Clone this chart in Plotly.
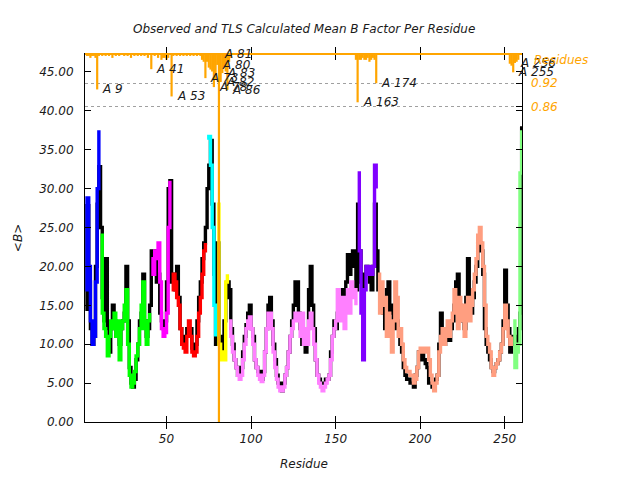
import plotly.graph_objects as go

# ---------------- data ----------------
residues = list(range(2, 261))

observed_b = [
    14.5, 27.8, 18, 12, 10, 11, 20, 28, 32.8,                       # 2-10
    25, 16, 13, 21, 12, 9, 12, 15, 13, 11,                          # 11-20
    12, 10, 12, 13, 14, 20, 13, 7, 5, 4.5,                          # 21-30
    5.5, 8, 10, 13, 14, 19, 13, 11, 12, 15,                         # 31-40
    22, 20, 22, 18, 19, 14, 13, 12, 13, 18,                         # 41-50
    30, 31, 18, 19, 17, 20, 16, 12, 10, 10,                         # 51-60
    11, 12, 12, 12, 9.5, 9, 10, 13, 16, 18,                         # 61-70
    21, 23, 25, 30, 33, 36.2, 28, 19, 10, 23,                       # 71-80
    10, 9, 11, 13, 16, 18, 17, 12, 10, 8,                           # 81-90
    7, 6, 6, 7, 9, 11, 12.5, 14, 15, 12,                            # 91-100
    11, 8, 7, 6.5, 6, 5.5, 6.5, 9, 12, 15,                          # 101-110
    16, 13, 10, 8, 6, 5, 4.5, 4, 5, 6,                              # 111-120
    7, 9, 11, 13, 15, 18, 18, 14, 12, 10,                           # 121-130
    11, 9, 12, 17, 20, 15, 12, 8, 6, 5.5,                           # 131-140
    5, 5, 5, 5.5, 5.5, 6, 9, 11, 13, 12,                            # 141-150
    14, 14, 14, 17, 16, 18, 21.5, 19, 20, 22,                       # 151-160
    20, 17, 28, 22, 18, 17, 19, 20, 19, 18,                         # 161-170
    17, 20, 28, 22, 17, 17, 15, 14, 12, 17,                         # 171-180
    18, 14, 15, 12, 14, 13, 12, 10, 9, 7,                           # 181-190
    6, 5.5, 5.5, 5, 5, 4.5, 6, 7, 9, 8,                             # 191-200
    9, 8, 7.5, 7, 5, 5, 4.5, 5, 5.5, 6,                             # 201-210
    10, 14, 12, 10, 10.5, 11, 10.5, 12, 13, 15,                     # 211-220
    18, 19, 15, 14, 13, 12, 16, 21, 17, 14,                         # 221-230
    16, 18, 20, 23, 23, 22, 19, 12, 10, 9,                          # 231-240
    8, 7, 6.5, 7, 7.5, 8, 9, 10, 13, 19.5,                          # 241-250
    15, 12, 9, 10, 11, 10, 10, 12, 14, 38,                          # 251-260
]

calculated_b = [
    17, 28.8, 20, 13, 10, 11, 18, 30, 37.5,                         # 2-10
    24, 14, 12, 11, 8.5, 11, 13, 12, 14, 11,                        # 11-20
    13, 8, 12, 13, 15, 17, 10, 6, 4.5, 5,                           # 21-30
    6.5, 8.5, 10, 12, 15, 18, 12, 10, 13, 14,                       # 31-40
    21, 19, 22, 21, 23, 18, 12, 11, 11.5, 14,                       # 41-50
    25, 31, 17, 19, 18, 16, 15, 12, 10, 9.5,                        # 51-60
    9, 11, 13, 11, 9, 8.5, 9, 11, 14, 16,                           # 61-70
    19, 22, 23, 36.5, 36.7, 33, 25, 15, 11, 28,                     # 71-80
    10, 8, 9, 8, 18, 19, 13, 11, 9, 8,                              # 81-90
    7, 6, 5.5, 6, 8, 10, 12, 13, 13.5, 12,                          # 91-100
    10, 8, 7, 6, 5.5, 5.2, 6, 9, 12, 14,                            # 101-110
    14, 12, 9, 7, 5.5, 4.5, 4, 4, 4.5, 6,                           # 111-120
    7, 9, 11, 12, 13, 14, 14, 13, 11, 14,                           # 121-130
    10, 12, 10, 13, 14, 12, 10, 8, 6, 5,                            # 131-140
    4.5, 4, 4.5, 5, 5.5, 6, 8, 11, 12, 13,                          # 141-150
    17, 15, 13, 16, 12, 15, 17, 14, 18, 16,                         # 151-160
    17, 15, 32, 22, 14, 8, 17, 20, 19, 20,                          # 161-170
    19, 20, 33, 30, 19, 14, 18, 15, 16, 11,                         # 171-180
    14, 12, 9, 13, 18, 16, 11, 12, 10, 8,                           # 181-190
    7, 6.5, 6.5, 6, 6, 5, 5.5, 7, 9, 9.5,                           # 191-200
    9, 9, 9.5, 9.5, 8, 6, 5, 4, 5, 6,                               # 201-210
    9, 11, 12, 10, 12, 13, 11, 13, 14, 17,                          # 211-220
    15, 12, 16, 13, 15, 11, 14, 16, 13, 15,                         # 221-230
    17, 19, 21, 24, 25, 23, 20, 15, 11, 10,                         # 231-240
    9, 7, 6, 7, 7.5, 8, 9, 10, 12, 15,                              # 241-250
    13, 11, 10, 11, 13, 7, 9, 10, 32, 37.5,                         # 251-260
]

group_starts = [2, 11, 41, 53, 74, 80, 87, 163, 175, 255]
group_ends = [10, 40, 52, 73, 79, 86, 162, 174, 254, 260]

corr_residues = [3, 4, 5, 6, 7, 8, 9, 10, 12, 14, 16, 18, 20, 22, 25, 27, 29, 31,
                 33, 35, 37, 39, 41, 43, 45, 47, 48, 49, 50, 51, 53, 54, 56, 58,
                 60, 62, 64, 66, 68, 70, 71, 72, 73, 74, 75, 76, 77, 78, 79, 80,
                 81, 82, 83, 84, 85, 86, 87, 88,
                 162, 163, 164, 165, 166, 167, 168, 169, 170, 171, 172, 173, 174,
                 253, 254, 255, 256, 257, 258]
corr_values = [0.99, 0.99, 0.985, 0.99, 0.99, 0.985, 0.904, 0.99, 0.99, 0.99, 0.99,
               0.985, 0.99, 0.99, 0.99, 0.99, 0.985, 0.99, 0.99, 0.99, 0.99, 0.985,
               0.956, 0.99, 0.985, 0.98, 0.985, 0.985, 0.98, 0.985, 0.886, 0.99,
               0.99, 0.99, 0.99, 0.99, 0.99, 0.99, 0.99, 0.99, 0.98, 0.975, 0.933,
               0.975, 0.96, 0.955, 0.95, 0.91, 0.93, 0.967, 0.0, 0.923, 0.946,
               0.96, 0.95, 0.903, 0.975, 0.985,
               0.98, 0.871, 0.98, 0.98, 0.985, 0.98, 0.98, 0.985, 0.975, 0.98,
               0.985, 0.98, 0.92,
               0.97, 0.965, 0.948, 0.972, 0.975, 0.98]

labelled_residues = [9, 41, 53, 73, 78, 80, 81, 82, 83, 86, 163, 174, 255, 256]
chain_id = "A"

y_ticks = [0, 5, 10, 15, 20, 25, 30, 35, 40, 45]
x_ticks = [50, 100, 150, 200, 250]
corr_ticks = [0.86, 0.92]

# ---------------- styles ----------------
group_colors = ["#0000ff", "#00ff00", "#ff00ff", "#ff0000", "#00ffff",
                "#ffff00", "#ff80ff", "#8000ff", "#ff9e80", "#80ff80"]
orange = "#ffa500"
text_col = "#1a1a1a"
FONT = "DejaVu Sans"
y_range = [0, 47.3]
y2_range = [0.05, 0.995]

fig = go.Figure()

# observed (black)
fig.add_trace(go.Scatter(x=residues, y=observed_b, mode="lines",
                         line=dict(color="black", width=3.4, shape="hv"),
                         showlegend=False, hoverinfo="skip"))

# calculated per TLS group
for s, e, col in zip(group_starts, group_ends, group_colors):
    xs = [r for r in residues if s <= r <= e]
    ys = [calculated_b[r - 2] for r in xs]
    fig.add_trace(go.Scatter(x=xs, y=ys, mode="lines",
                             line=dict(color=col, width=3.4, shape="hv"),
                             showlegend=False, hoverinfo="skip"))

# correlation bars hanging from top (secondary axis)
fig.add_trace(go.Bar(x=corr_residues, y=[1 - c for c in corr_values],
                     base=corr_values, yaxis="y2", width=1.3,
                     marker=dict(color=orange, line=dict(width=0)),
                     showlegend=False, hoverinfo="skip"))

annotations = []
for r in labelled_residues:
    c = corr_values[corr_residues.index(r)]
    yv = c if c > y2_range[0] else y2_range[1]
    annotations.append(dict(x=r, y=yv, xref="x", yref="y2", text=f"{chain_id} {r}",
                            showarrow=False, xanchor="left", yanchor="middle",
                            xshift=3, font=dict(family=FONT, size=12, color=text_col,
                                                style="italic")))

annotations.append(dict(x=1.0, y=0.98, xref="paper", yref="y2", text="Residues",
                        showarrow=False, xanchor="left", yanchor="middle", xshift=10,
                        font=dict(family=FONT, size=12, color=orange, style="italic")))
annotations.append(dict(x=0.5, y=-0.115, xref="paper", yref="paper", text="Residue",
                        showarrow=False, xanchor="center", yanchor="middle",
                        font=dict(family=FONT, size=12, color=text_col, style="italic")))
annotations.append(dict(x=-0.153, y=0.5, xref="paper", yref="paper", text="&lt;B&gt;",
                        showarrow=False, textangle=-90, xanchor="center", yanchor="middle",
                        font=dict(family=FONT, size=12, color=text_col, style="italic")))
annotations.append(dict(x=0.5, y=1.068, xref="paper", yref="paper",
                        text="Observed and TLS Calculated Mean B Factor Per Residue",
                        showarrow=False, xanchor="center", yanchor="middle",
                        font=dict(family=FONT, size=12, color=text_col, style="italic")))

tickfont = dict(family=FONT, size=12, color=text_col, style="italic")

fig.update_layout(
    width=640, height=480,
    margin=dict(l=85, r=118, t=54, b=58),
    paper_bgcolor="white", plot_bgcolor="white",
    showlegend=False, barmode="overlay",
    annotations=annotations,
    xaxis=dict(range=[1.8, 260.2], tickvals=x_ticks, ticks="inside", ticklen=6,
               tickcolor="black", showline=True, linecolor="black", linewidth=1,
               mirror="allticks", showgrid=False, zeroline=False, tickfont=tickfont,
               ticklabelstandoff=6),
    yaxis=dict(range=y_range, tickvals=y_ticks, tickformat=".2f", ticks="inside",
               ticklen=6, tickcolor="black", showline=True, linecolor="black",
               linewidth=1, mirror="allticks", showgrid=False, zeroline=False,
               tickfont=tickfont, ticklabelstandoff=8),
    yaxis2=dict(range=y2_range, overlaying="y", side="right", tickvals=corr_ticks,
                tickformat=".2f", ticks="inside", ticklen=6, tickcolor="black",
                showline=False, showgrid=True, gridcolor="#a0a0a0", griddash="dot",
                gridwidth=1, zeroline=False,
                tickfont=dict(family=FONT, size=12, color=orange, style="italic"),
                ticklabelstandoff=8),
    shapes=[dict(type="line", xref="paper", yref="paper", x0=0, x1=1, y0=1, y1=1,
                 line=dict(color=orange, width=2), layer="above")],
)

fig.write_html("out.html")
